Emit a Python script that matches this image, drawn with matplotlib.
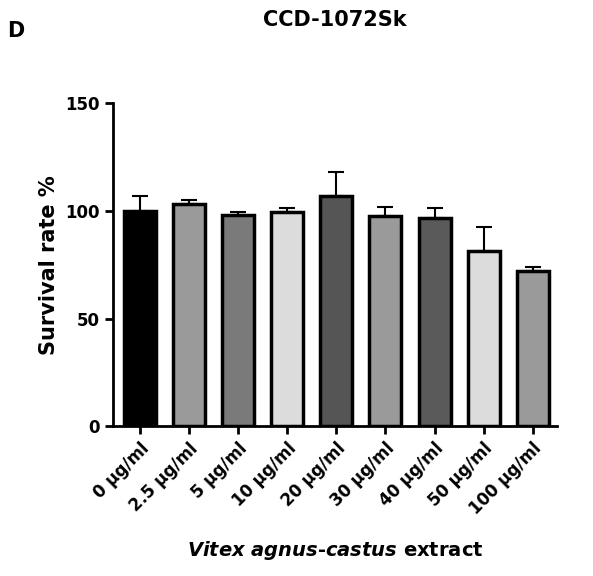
import matplotlib
matplotlib.use("Agg")
import matplotlib.pyplot as plt
plt.rcParams["mathtext.fontset"] = "custom"
plt.rcParams["mathtext.it"] = "DejaVu Sans:italic:bold"
plt.rcParams["mathtext.rm"] = "DejaVu Sans:bold"

categories = ["0 µg/ml", "2.5 µg/ml", "5 µg/ml", "10 µg/ml", "20 µg/ml", "30 µg/ml", "40 µg/ml", "50 µg/ml", "100 µg/ml"]
values = [100, 103, 98, 99.5, 107, 97.5, 96.5, 81.5, 72]
errors = [7, 2, 1.5, 2, 11, 4.5, 5, 11, 2]
colors = ["#000000", "#9a9a9a", "#7a7a7a", "#dcdcdc", "#555555", "#9a9a9a", "#5a5a5a", "#dcdcdc", "#9a9a9a"]

fig = plt.figure(figsize=(5.93, 5.76), dpi=100)
ax = fig.add_axes([0.19, 0.26, 0.75, 0.561])
x = range(len(values))
ax.bar(x, values, width=0.65, color=colors, edgecolor="black", linewidth=2.5, zorder=2)
ax.errorbar(x, values, yerr=[[0]*len(errors), errors], fmt="none", ecolor="black",
            elinewidth=1.5, capsize=6, capthick=1.5, zorder=1)
ax.set_ylim(0, 150)
ax.set_xlim(-0.55, len(values) - 0.5)
ax.set_yticks([0, 50, 100, 150])
ax.set_xticks(list(x))
ax.set_xticklabels(categories, rotation=45, ha="right", rotation_mode="anchor", fontweight="bold", fontsize=12)
for t in ax.get_yticklabels():
    t.set_fontweight("bold"); t.set_fontsize(12)
ax.spines["top"].set_visible(False)
ax.spines["right"].set_visible(False)
ax.spines["left"].set_linewidth(2)
ax.spines["bottom"].set_linewidth(2)
ax.tick_params(width=2, length=6)
ax.set_ylabel("Survival rate %", fontsize=15, fontweight="bold")
fig.text(0.565, 0.035, r"$\mathit{Vitex\ agnus}$-$\mathit{castus}$ extract", ha="center", fontsize=14, fontweight="bold")
fig.text(0.565, 0.955, "CCD-1072Sk", ha="center", fontsize=15, fontweight="bold")
fig.text(0.012, 0.935, "D", fontsize=15, fontweight="bold")
fig.savefig("out.png", dpi=100)
